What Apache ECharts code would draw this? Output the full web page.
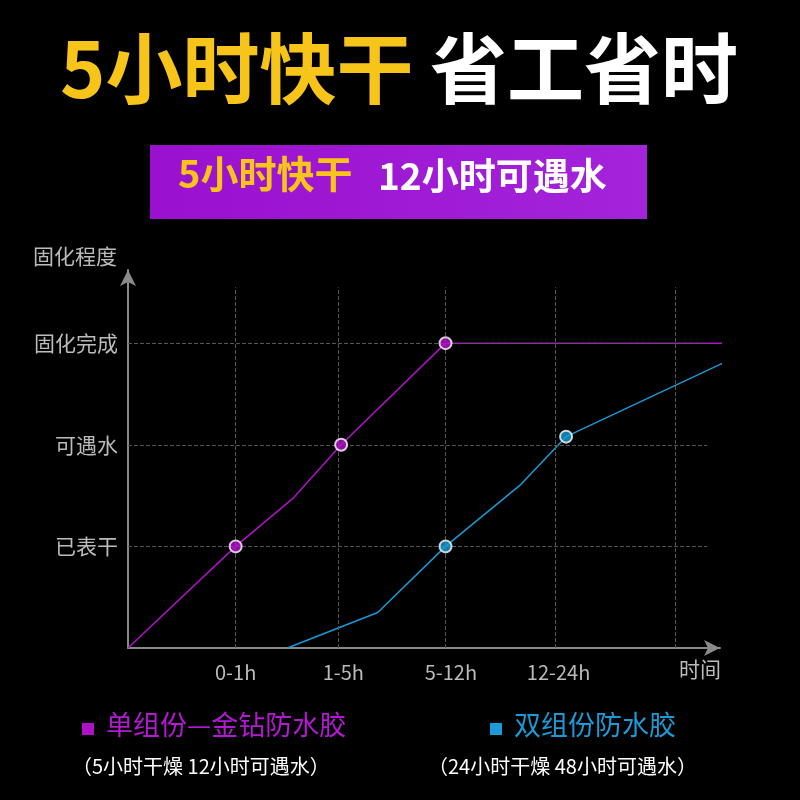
<!DOCTYPE html>
<html><head><meta charset="utf-8">
<script src="https://cdn.jsdelivr.net/npm/echarts@6/dist/echarts.min.js"></script>
<style>html,body{margin:0;background:#000}#c{width:800px;height:800px}</style>
</head><body><div id="c"></div>
<script>
// x: 0-1h=1, 1-5h=2, 5-12h=3, 12-24h=4; y: 已表干=1, 可遇水=2, 固化完成=3
var xLabels = ['', '0-1h', '1-5h', '5-12h', '12-24h', ''];
var yLabels = ['', '已表干', '可遇水', '固化完成'];
var singleData = [[0, 0], [1, 1], [1.54, 1.48], [1.98, 2], [2.95, 3], [5.58, 3]];
var singleMarks = [[1, 1], [1.98, 2], [2.95, 3]];
var doubleData = [[1.48, 0], [2.32, 0.35], [2.95, 1], [3.64, 1.6], [4.07, 2.08], [5.64, 2.86]];
var doubleMarks = [[2.95, 1], [4.07, 2.08]];
var gridX = [1, 1.95, 2.95, 3.97, 5.08];
var gridY = [1, 2, 3];

var chart = echarts.init(document.getElementById('c'));
var F = '"Noto Sans CJK SC", sans-serif';
var axisColor = '#8a8a8a';
var dashed = { color: '#555', type: 'dashed', width: 1 };

var marks = [];
gridX.forEach(function (v) { marks.push([{ coord: [v, 0] }, { coord: [v, 3.55] }]); });
gridY.forEach(function (v) { marks.push([{ coord: [0, v] }, { coord: [5.38, v] }]); });

chart.setOption({
  backgroundColor: '#000',
  animation: false,
  grid: { left: 128, right: 80, top: 270, bottom: 152 },
  xAxis: {
    type: 'value', min: 0, max: 5.5, interval: 1,
    axisLine: { lineStyle: { color: axisColor, width: 2 }, symbol: ['none', 'arrow'], symbolSize: [12, 16] },
    axisTick: { show: false }, splitLine: { show: false },
    axisLabel: { color: '#bbb', fontSize: 20, fontFamily: F, margin: 14,
      formatter: function (v) { return xLabels[v] || ''; } }
  },
  yAxis: {
    type: 'value', min: 0, max: 3.72, interval: 1,
    axisLine: { show: true, lineStyle: { color: axisColor, width: 2 }, symbol: ['none', 'arrow'], symbolSize: [12, 16] },
    axisTick: { show: false }, splitLine: { show: false },
    axisLabel: { color: '#bbb', fontSize: 21, fontFamily: F, margin: 10,
      formatter: function (v) { return yLabels[v] || ''; } }
  },
  series: [
    { type: 'line', data: singleData, symbol: 'none', clip: false,
      lineStyle: { color: '#B012C8', width: 1.5 },
      markLine: { silent: true, symbol: 'none', label: { show: false }, lineStyle: dashed, data: marks } },
    { type: 'line', data: doubleData, symbol: 'none', clip: false,
      lineStyle: { color: '#1A9AD6', width: 1.5 } },
    { type: 'scatter', data: singleMarks, symbolSize: 12, z: 5,
      itemStyle: { color: '#B012C8', borderColor: '#fff', borderWidth: 2 } },
    { type: 'scatter', data: doubleMarks, symbolSize: 12, z: 5,
      itemStyle: { color: '#1A9AD6', borderColor: '#fff', borderWidth: 2 } }
  ],
  graphic: [
    { type: 'text', left: 60, top: 30, style: { text: '5小时快干', fill: '#F7C51A', font: 'bold 77px ' + F } },
    { type: 'text', left: 430, top: 30, style: { text: '省工省时', fill: '#fff', font: 'bold 77px ' + F } },
    { type: 'rect', shape: { x: 150, y: 145, width: 497, height: 74 },
      style: { fill: new echarts.graphic.LinearGradient(0, 0, 1, 0, [
        { offset: 0, color: '#9A10CF' }, { offset: 1, color: '#A324DA' }]) } },
    { type: 'text', left: 178, top: 155, style: { text: '5小时快干', fill: '#F7C51A', font: 'bold 38px ' + F } },
    { type: 'text', left: 378, top: 157, style: { text: '12小时可遇水', fill: '#fff', font: 'bold 37px ' + F } },
    { type: 'text', left: 33, top: 246, style: { text: '固化程度', fill: '#bbb', font: '21px ' + F } },
    { type: 'text', left: 679, top: 659, style: { text: '时间', fill: '#bbb', font: '21px ' + F } },
    { type: 'rect', shape: { x: 82, y: 723, width: 12, height: 12 }, style: { fill: '#B012C8' } },
    { type: 'text', left: 106, top: 711, style: { text: '单组份—金钻防水胶', fill: '#B418D2', font: '27px ' + F } },
    { type: 'text', left: 72, top: 756, style: { text: '（5小时干燥 12小时可遇水）', fill: '#fff', font: '20px ' + F } },
    { type: 'rect', shape: { x: 490, y: 723, width: 12, height: 12 }, style: { fill: '#1A9AD6' } },
    { type: 'text', left: 514, top: 711, style: { text: '双组份防水胶', fill: '#1A9AD6', font: '27px ' + F } },
    { type: 'text', left: 428, top: 756, style: { text: '（24小时干燥 48小时可遇水）', fill: '#fff', font: '20px ' + F } }
  ]
});
</script></body></html>
